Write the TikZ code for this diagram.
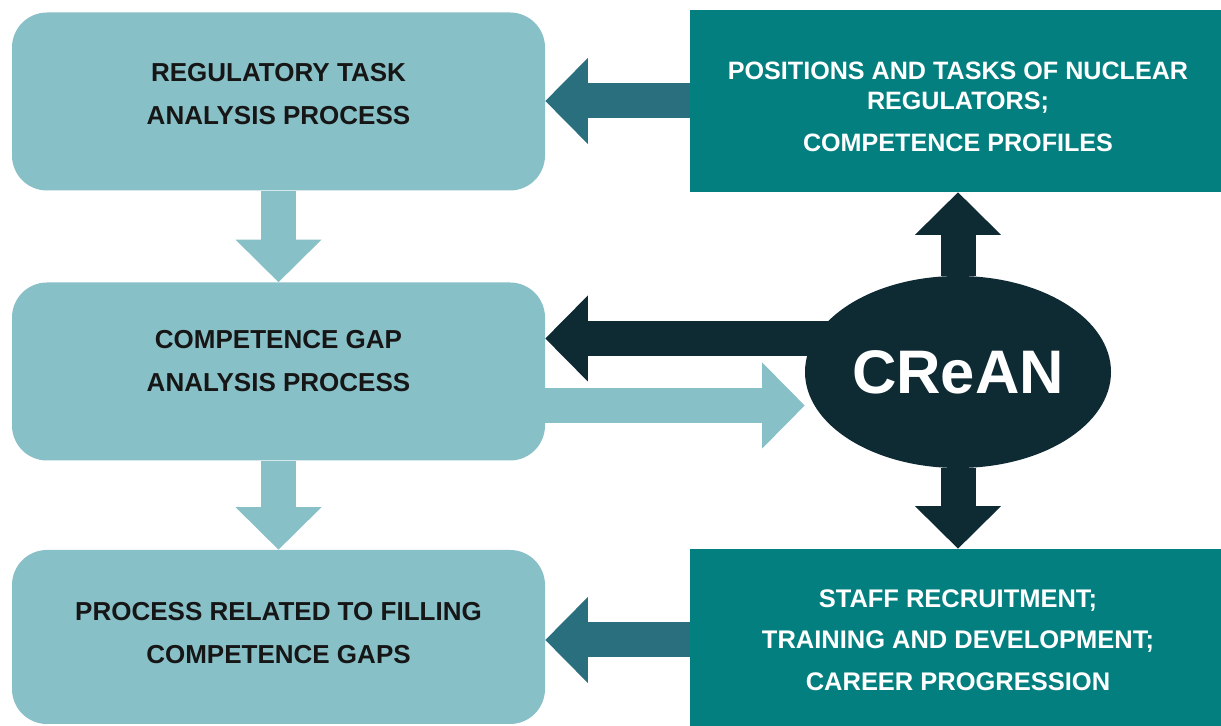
\documentclass[tikz,border=0pt]{standalone}
\usepackage{fontspec}
\setmainfont{Liberation Sans}
\usetikzlibrary{arrows.meta,shapes.geometric}
\definecolor{procBlue}{RGB}{136,192,200}
\definecolor{resTeal}{RGB}{3,127,127}
\definecolor{feedTeal}{RGB}{41,111,126}
\definecolor{hubNavy}{RGB}{14,43,52}
\definecolor{inkGray}{RGB}{22,22,22}

\begin{document}
\begin{tikzpicture}[
    procbox/.style={fill=procBlue,rounded corners=0.7cm,minimum width=10.66cm,minimum height=3.56cm,inner sep=0pt,align=center,text=inkGray,font=\fontsize{14.8}{24.5}\selectfont\bfseries},
    resbox/.style={fill=resTeal,minimum width=10.72cm,minimum height=3.64cm,inner sep=0pt,align=center,text=white,font=\fontsize{14.5}{23.5}\selectfont\bfseries},
    blockarrow/.style={line width=0.7cm,-{Triangle[length=0.85cm,width=1.72cm,line width=0pt]}},
    flowarrow/.style={blockarrow,draw=procBlue},
    feedarrow/.style={blockarrow,draw=feedTeal},
    hubarrow/.style={blockarrow,draw=hubNavy}
  ]
  \clip (0,0) rectangle (24.42,14.52);
  \fill[white] (0,0) rectangle (24.42,14.52);

  % process chain on the left
  \node[procbox,text depth=0.3cm] (task) at (5.57,12.49) {REGULATORY TASK\\ANALYSIS PROCESS};
  \node[procbox,text depth=0.42cm] (gap) at (5.57,7.09) {COMPETENCE GAP\\ANALYSIS PROCESS};
  \node[procbox,text depth=0.16cm,minimum height=3.48cm] (filling) at (5.57,1.78) {PROCESS RELATED TO FILLING\\COMPETENCE GAPS};

  % results on the right
  \node[resbox,font=\fontsize{14.3}{17}\selectfont\bfseries] (posts) at (19.16,12.50) {\rule{0pt}{17pt}POSITIONS AND TASKS OF NUCLEAR\\REGULATORS;\\[7pt]COMPETENCE PROFILES};
  \node[resbox] (staff) at (19.16,1.72) {STAFF RECRUITMENT;\\TRAINING AND DEVELOPMENT;\\CAREER PROGRESSION};

  \node[ellipse,fill=hubNavy,inner sep=0pt,minimum width=6.12cm,minimum height=3.84cm,text=white,font=\fontsize{35}{35}\selectfont\bfseries] (crean) at (19.16,7.08) {CReAN};

  \draw[flowarrow] (task) -- (gap);
  \draw[flowarrow] (gap) -- (filling);
  \draw[feedarrow] (posts.west) -- (posts.west -| task.east);
  \draw[feedarrow] (staff.west) -- (staff.west -| filling.east);
  \draw[hubarrow] (crean) -- (posts);
  \draw[hubarrow] (crean) -- (staff);

  % hub to gap analysis and back
  \coordinate (hub-out) at ([shift={(0.8,0.67)}]crean.west);
  \draw[hubarrow] (hub-out) -- (hub-out -| gap.east);
  \coordinate (hub-in) at ([yshift=-0.67cm]crean.west);
  \draw[flowarrow] (hub-in -| gap.east) -- (hub-in);
\end{tikzpicture}
\end{document}
